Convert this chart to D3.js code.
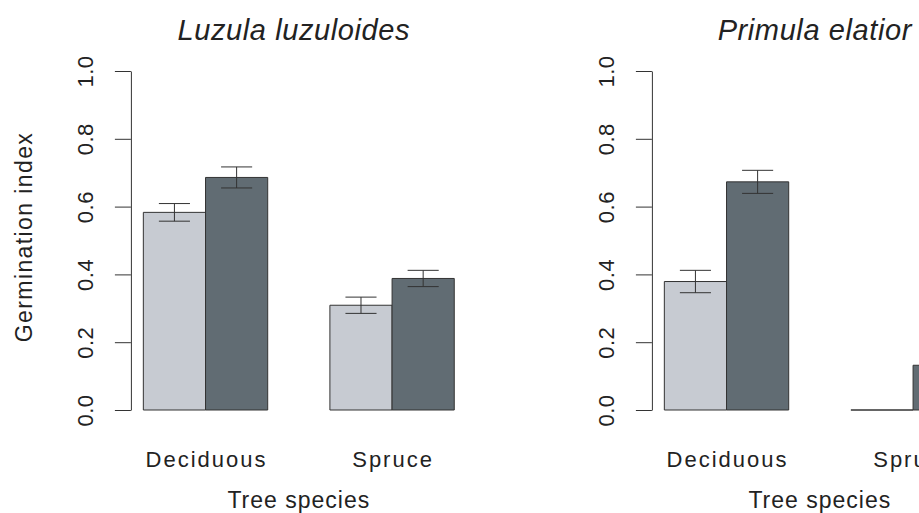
<!DOCTYPE html>
<html>
<head>
<meta charset="utf-8">
<script src="https://cdn.jsdelivr.net/npm/d3@7"></script>
<style>
  html, body { margin: 0; padding: 0; background: #fff; overflow: hidden; }
  text { font-family: "Liberation Sans", Arial, Helvetica, sans-serif; fill: #222; }
</style>
</head>
<body>
<svg id="chart" width="919" height="513"></svg>
<script>
var panelTitles = ["Luzula luzuloides", "Primula elatior"];
var treeSpecies = ["Deciduous", "Spruce"];
var yTicks = [0, 0.2, 0.4, 0.6, 0.8, 1.0];

// means per tree species (light = first bar, dark = second bar)
var luzulaLight = [0.583, 0.309];
var luzulaDark = [0.686, 0.388];
var luzulaLightErr = [0.026, 0.024];
var luzulaDarkErr = [0.031, 0.024];

var primulaLight = [0.379, 0.0];
var primulaDark = [0.673, 0.132];
var primulaLightErr = [0.033, 0.0];
var primulaDarkErr = [0.034, 0.03];

var panelData = [
    {title: panelTitles[0], light: luzulaLight, dark: luzulaDark, lightErr: luzulaLightErr, darkErr: luzulaDarkErr},
    {title: panelTitles[1], light: primulaLight, dark: primulaDark, lightErr: primulaLightErr, darkErr: primulaDarkErr}
];

var colors = ["#c7cbd2", "#616c73"];

var svg = d3.select("#chart");

var y = d3.scaleLinear()
    .domain([0, 1])
    .range([410, 71]);

panelData.forEach(function(p, i) {
    var offset = i * 521;

    // bar units like barplot(beside = TRUE, space = c(0, 1))
    var x = d3.scaleLinear()
        .domain([0.8, 6.2])
        .range([130.9 + offset, 466.7 + offset]);

    var g = svg.append("g");

    var bars = [];
    treeSpecies.forEach(function(t, k) {
        var start = 1 + k * 3;
        bars.push({left: start, value: p.light[k], err: p.lightErr[k], fill: colors[0]});
        bars.push({left: start + 1, value: p.dark[k], err: p.darkErr[k], fill: colors[1]});
    });

    // paths so that a zero-height bar still shows its outline
    g.selectAll("path.bar")
        .data(bars)
        .enter().append("path")
        .attr("class", "bar")
        .attr("d", function(d) {
            var x0 = x(d.left), x1 = x(d.left + 1), y0 = y(0), y1 = y(d.value);
            return "M" + x0 + "," + y0 + "H" + x1 + "V" + y1 + "H" + x0 + "Z";
        })
        .attr("fill", function(d) { return d.fill; })
        .attr("stroke", "#333")
        .attr("stroke-width", 1);

    var err = g.selectAll("g.err")
        .data(bars.filter(function(d) { return d.err > 0; }))
        .enter().append("g")
        .attr("class", "err")
        .attr("stroke", "#333")
        .attr("stroke-width", 1);

    err.append("line")
        .attr("x1", function(d) { return x(d.left + 0.5); })
        .attr("x2", function(d) { return x(d.left + 0.5); })
        .attr("y1", function(d) { return y(d.value - d.err); })
        .attr("y2", function(d) { return y(d.value + d.err); });

    [-1, 1].forEach(function(s) {
        err.append("line")
            .attr("x1", function(d) { return x(d.left + 0.25); })
            .attr("x2", function(d) { return x(d.left + 0.75); })
            .attr("y1", function(d) { return y(d.value + s * d.err); })
            .attr("y2", function(d) { return y(d.value + s * d.err); });
    });

    // y axis
    var axis = g.append("g")
        .attr("transform", "translate(" + x(0.8) + ",0)")
        .call(d3.axisLeft(y)
            .tickValues(yTicks)
            .tickSize(16)
            .tickSizeOuter(0)
            .tickFormat(d3.format(".1f")));

    axis.select(".domain").attr("stroke", "#333");
    axis.selectAll(".tick line").attr("stroke", "#333");
    axis.selectAll(".tick text")
        .attr("x", null)
        .attr("dy", null)
        .attr("transform", "translate(-37.5,0) rotate(-90)")
        .attr("text-anchor", "middle")
        .style("font-size", "22px")
        .style("letter-spacing", "0.5px")
        .attr("fill", "#222");

    // category labels
    g.selectAll("text.cat")
        .data(treeSpecies)
        .enter().append("text")
        .attr("class", "cat")
        .attr("x", function(d, k) { return x(2 + k * 3) + 1; })
        .attr("y", 467)
        .attr("text-anchor", "middle")
        .style("font-size", "22px")
        .style("letter-spacing", "2px")
        .text(function(d) { return d; });

    g.append("text")
        .attr("x", (x(0.8) + x(6.2)) / 2)
        .attr("y", 508)
        .attr("text-anchor", "middle")
        .style("font-size", "23px")
        .style("letter-spacing", "1px")
        .text("Tree species");

    g.append("text")
        .attr("x", (x(0.8) + x(6.2)) / 2 - 5)
        .attr("y", 40)
        .attr("text-anchor", "middle")
        .style("font-size", "29px")
        .style("font-style", "italic")
        .style("letter-spacing", "0.6px")
        .text(p.title);
});

svg.append("text")
    .attr("transform", "translate(32,237) rotate(-90)")
    .attr("text-anchor", "middle")
    .style("font-size", "23px")
    .style("letter-spacing", "1.4px")
    .text("Germination index");
</script>
</body>
</html>
